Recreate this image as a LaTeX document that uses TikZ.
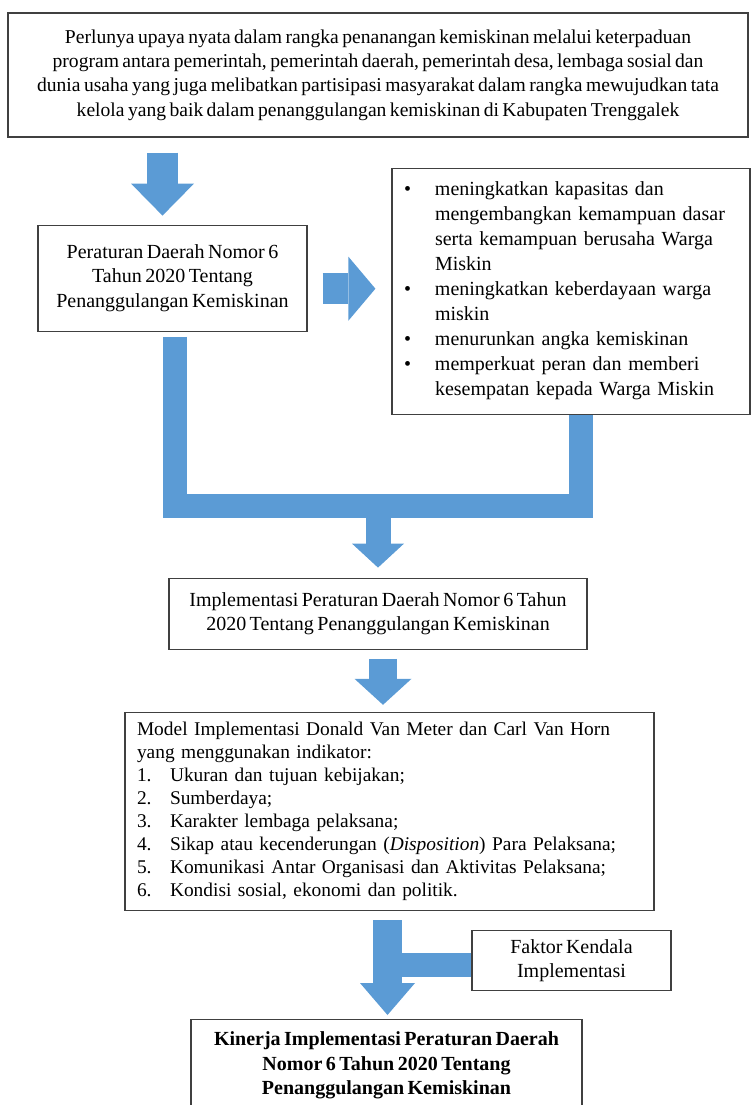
\documentclass[tikz,border=0pt]{standalone}
\usepackage{fontspec}
\setmainfont[WordSpace=0.7]{Liberation Serif}
\usetikzlibrary{arrows.meta, positioning}

\definecolor{flowblue}{RGB}{91,155,213}
\newcommand{\boxfont}{\fontsize{20}{24.5}\selectfont}
\newcommand{\bulletmark}{\makebox[31pt][l]{\textbullet}}
\newcommand{\bulletpad}{\hspace*{31pt}}
\newcommand{\listnum}[1]{\makebox[33pt][l]{#1}}

\tikzset{
  box/.style = {draw=black!75, line width=1.2pt, inner sep=0pt, font=\boxfont},
  flowbar/.style = {draw=flowblue, line width=#1, line join=miter},
  flowhead/.style 2 args = {-{Triangle[width=#1, length=#2, line width=0pt]}}
}

\begin{document}
\begin{tikzpicture} [x=1pt, y=-1pt]
    \useasboundingbox (0,0) rectangle (752,1105);

    \node (problem) [box, minimum width=740pt, minimum height=124pt, align=center,
        font=\fontsize{19.6}{24.3}\selectfont] at (378,75)
        {Perlunya upaya nyata dalam rangka penanangan kemiskinan melalui keterpaduan\\
         program antara pemerintah, pemerintah daerah, pemerintah desa, lembaga sosial dan\\
         dunia usaha yang juga melibatkan partisipasi masyarakat dalam rangka mewujudkan tata\\
         kelola yang baik dalam penanggulangan kemiskinan di Kabupaten Trenggalek};
    \node (perda) [box, minimum width=269pt, minimum height=106pt, align=center,
        below right = 87pt and 30pt of problem.south west]
        {Peraturan Daerah Nomor 6\\ Tahun 2020 Tentang\\ Penanggulangan Kemiskinan};
    \node (tujuan) [box, minimum width=358pt, minimum height=246pt, text width=334pt, inner xsep=12pt, align=left,
        font=\fontsize{20}{25}\selectfont, below = 30pt of problem.south east, anchor=north east, xshift=2pt]
        {\bulletmark meningkatkan kapasitas dan\\
         \bulletpad mengembangkan kemampuan dasar\\
         \bulletpad serta kemampuan berusaha Warga\\
         \bulletpad Miskin\\
         \bulletmark meningkatkan keberdayaan warga\\
         \bulletpad miskin\\
         \bulletmark menurunkan angka kemiskinan\\
         \bulletmark memperkuat peran dan memberi\\
         \bulletpad kesempatan kepada Warga Miskin};
    \node (impl) [box, minimum width=418pt, minimum height=71pt, align=center, below = 440pt of problem]
        {Implementasi Peraturan Daerah Nomor 6 Tahun\\ 2020 Tentang Penanggulangan Kemiskinan};
    \node (model) [box, minimum width=529pt, minimum height=198pt, text width=505pt, inner xsep=12pt, align=left,
        font=\fontsize{19.4}{23}\selectfont, below = 62pt of impl, xshift=11.5pt]
        {Model Implementasi Donald Van Meter dan Carl Van Horn\\
         yang menggunakan indikator:\\
         \listnum{1.}Ukuran dan tujuan kebijakan;\\
         \listnum{2.}Sumberdaya;\\
         \listnum{3.}Karakter lembaga pelaksana;\\
         \listnum{4.}Sikap atau kecenderungan (\textit{Disposition}) Para Pelaksana;\\
         \listnum{5.}Komunikasi Antar Organisasi dan Aktivitas Pelaksana;\\
         \listnum{6.}Kondisi sosial, ekonomi dan politik.};
    \node (faktor) [box, minimum width=199pt, minimum height=60pt, align=center,
        below = 19pt of model.south east, anchor=north east, xshift=17pt]
        {Faktor Kendala\\ Implementasi};
    \node (kinerja) [box, minimum width=391pt, minimum height=92pt, align=center,
        font=\boxfont\bfseries, below = 108pt of model, xshift=-3pt]
        {Kinerja Implementasi Peraturan Daerah\\ Nomor 6 Tahun 2020 Tentang\\ Penanggulangan Kemiskinan};

    % block arrows
    \coordinate (merge) at ([yshift=72pt]impl.north);
    \draw [flowbar=31pt, flowhead={63pt}{32pt}, shorten <=15pt, shorten >=9pt]
        ([xshift=-10pt]perda.north |- problem.south) -- ([xshift=-10pt]perda.north);
    \draw [flowbar=31pt, flowhead={64pt}{27pt}, shorten <=15pt, shorten >=16pt]
        ([yshift=-10.5pt]perda.east) -- ([yshift=-10.5pt]perda.east -| tujuan.west);
    \draw [flowbar=24pt, shorten <=5pt]
        ([xshift=2pt]perda.south) |- (merge) -| ([xshift=10pt]tujuan.south);
    \draw [flowbar=25pt, flowhead={52pt}{24pt}, shorten >=10pt] (merge) -- (impl.north);
    \draw [flowbar=28pt, flowhead={57pt}{26pt}, shorten <=9pt, shorten >=7pt]
        ([xshift=5pt]impl.south) -- ([xshift=5pt]impl.south |- model.north);
    \draw [flowbar=29pt, flowhead={55pt}{32pt}, shorten <=9pt, shorten >=4pt]
        ([xshift=-2pt]model.south) -- ([xshift=-2pt]model.south |- kinerja.north);
    \draw [flowbar=24pt] ([yshift=-4pt]faktor.west) -- ([yshift=-4pt]faktor.west -| model.south);
\end{tikzpicture}
\end{document}
